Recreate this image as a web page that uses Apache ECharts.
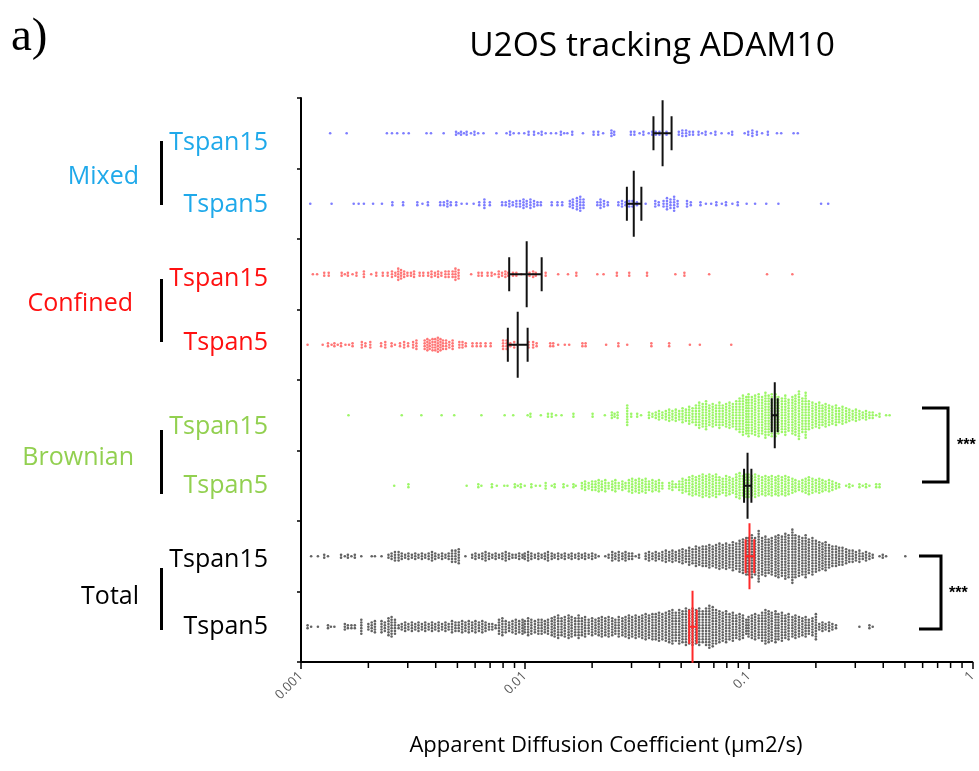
<!DOCTYPE html>
<html>
<head>
<meta charset="utf-8">
<script src="https://cdn.jsdelivr.net/npm/echarts@6/dist/echarts.min.js"></script>
<style>
  html, body { margin: 0; padding: 0; background: #ffffff; }
  #chart { width: 979px; height: 771px; }
</style>
</head>
<body>
<div id="chart"></div>
<script>
// Rows of the dot plot, top to bottom
const rowNames = ['Mixed Tspan15', 'Mixed Tspan5', 'Confined Tspan15', 'Confined Tspan5',
                  'Brownian Tspan15', 'Brownian Tspan5', 'Total Tspan15', 'Total Tspan5'];

// Each entry: [diffusion coefficient (µm2/s), number of trajectories drawn in that column]
const mixedTspan15 = [[0.00135,1],[0.0016,1],[0.00242,1],[0.00255,1],[0.00269,1],[0.00287,1],[0.00303,1],[0.00364,1],[0.00381,1],[0.00434,1],[0.00493,2],[0.00506,1],[0.00519,2],[0.00535,1],[0.0055,2],[0.00575,1],[0.00596,2],[0.00619,1],[0.00654,1],[0.00747,1],[0.00829,1],[0.0086,2],[0.00892,1],[0.00941,1],[0.00995,1],[0.0104,2],[0.011,2],[0.0115,1],[0.0119,2],[0.0124,1],[0.0131,1],[0.0138,1],[0.0145,2],[0.015,1],[0.0155,1],[0.0163,2],[0.0182,1],[0.0203,2],[0.0213,2],[0.0224,1],[0.0244,3],[0.0251,2],[0.0298,2],[0.0309,2],[0.0326,1],[0.0339,2],[0.0358,1],[0.0371,2],[0.0385,2],[0.04,2],[0.043,2],[0.0488,2],[0.0506,3],[0.0526,3],[0.0545,2],[0.0565,2],[0.0598,2],[0.062,1],[0.0643,2],[0.0679,1],[0.0711,2],[0.0758,1],[0.0815,1],[0.0845,2],[0.0961,1],[0.0997,2],[0.104,3],[0.109,2],[0.115,1],[0.122,2],[0.134,1],[0.14,1],[0.159,1],[0.166,1]];

const mixedTspan5 = [[0.0011,1],[0.00137,1],[0.00172,1],[0.00181,1],[0.00191,1],[0.0021,1],[0.0023,1],[0.00256,2],[0.00286,2],[0.00331,2],[0.00349,1],[0.00369,2],[0.00419,2],[0.00435,2],[0.00451,3],[0.00467,2],[0.00494,2],[0.00522,1],[0.00551,1],[0.00591,1],[0.00626,2],[0.0066,4],[0.00698,2],[0.00792,2],[0.00822,2],[0.00853,3],[0.00884,2],[0.00917,3],[0.00952,3],[0.00987,4],[0.0102,3],[0.0106,4],[0.011,3],[0.0114,2],[0.0118,2],[0.0132,2],[0.014,2],[0.0147,2],[0.0159,3],[0.0164,4],[0.0171,5],[0.0177,6],[0.0183,4],[0.0211,2],[0.0218,4],[0.0226,3],[0.0235,2],[0.0262,2],[0.0272,3],[0.0282,2],[0.0293,3],[0.0303,3],[0.0317,2],[0.0347,1],[0.0383,3],[0.0397,2],[0.0417,3],[0.0432,5],[0.0448,4],[0.0465,6],[0.0482,3],[0.0531,3],[0.0552,2],[0.061,2],[0.0645,1],[0.0681,1],[0.0718,2],[0.076,1],[0.0793,2],[0.0847,1],[0.0895,2],[0.0981,1],[0.107,1],[0.12,1],[0.136,1],[0.211,1],[0.227,1]];

const confinedTspan15 = [[0.00113,1],[0.00118,1],[0.00127,2],[0.00133,2],[0.00152,2],[0.00157,1],[0.00162,2],[0.0017,1],[0.00177,2],[0.00191,3],[0.00206,1],[0.00217,2],[0.00232,2],[0.00244,2],[0.00255,3],[0.00264,2],[0.00272,5],[0.0028,4],[0.00289,3],[0.00299,2],[0.0031,2],[0.0032,3],[0.00339,2],[0.00352,2],[0.0037,2],[0.00383,3],[0.00397,2],[0.0041,3],[0.00424,2],[0.00442,3],[0.00457,3],[0.00476,3],[0.0049,5],[0.00506,4],[0.00576,1],[0.00621,2],[0.00643,2],[0.00682,2],[0.00711,2],[0.00735,1],[0.00765,3],[0.00792,2],[0.00819,3],[0.00842,2],[0.00886,2],[0.00917,2],[0.00965,1],[0.0105,2],[0.0109,3],[0.0112,2],[0.0124,2],[0.0141,1],[0.0156,1],[0.017,2],[0.0211,1],[0.0225,1],[0.0258,2],[0.0293,2],[0.0352,2],[0.0471,1],[0.0517,2],[0.0667,1],[0.121,1],[0.157,1]];

const confinedTspan5 = [[0.00107,1],[0.00125,1],[0.00132,2],[0.00137,1],[0.00141,2],[0.00146,1],[0.00151,2],[0.00158,1],[0.00164,1],[0.0017,2],[0.00187,3],[0.00194,2],[0.00204,3],[0.00228,2],[0.00238,3],[0.00254,2],[0.00263,1],[0.00277,2],[0.00289,3],[0.00301,2],[0.00317,3],[0.00328,4],[0.00357,4],[0.00367,5],[0.00376,4],[0.00387,5],[0.00398,5],[0.00409,6],[0.0042,5],[0.00431,4],[0.00445,4],[0.0046,3],[0.00476,4],[0.0051,3],[0.00527,3],[0.00545,2],[0.00584,2],[0.0061,2],[0.00635,2],[0.00668,2],[0.00704,2],[0.008,4],[0.00829,4],[0.00862,2],[0.00897,3],[0.0104,3],[0.0109,3],[0.0113,2],[0.013,2],[0.0134,2],[0.0141,1],[0.0151,1],[0.0158,1],[0.0181,2],[0.0187,2],[0.0231,1],[0.0262,2],[0.0287,1],[0.0368,2],[0.0442,2],[0.0547,1],[0.0606,1],[0.0837,1]];

const brownianTspan15 = [[0.00163,1],[0.00282,1],[0.00345,1],[0.00425,1],[0.00484,1],[0.0064,1],[0.00813,1],[0.00888,1],[0.0103,1],[0.0106,2],[0.0118,1],[0.0127,2],[0.0132,2],[0.0138,1],[0.0146,1],[0.0165,2],[0.0201,2],[0.0228,1],[0.0245,3],[0.0252,2],[0.026,3],[0.0287,8],[0.0299,2],[0.0318,2],[0.0331,1],[0.0359,3],[0.0372,2],[0.0385,3],[0.0398,4],[0.0412,3],[0.0427,4],[0.0442,5],[0.0457,4],[0.0473,5],[0.049,4],[0.0507,6],[0.0525,5],[0.0543,7],[0.0562,6],[0.0582,8],[0.0602,10],[0.0624,9],[0.0646,11],[0.0668,8],[0.0692,9],[0.0716,8],[0.0741,10],[0.0767,8],[0.0794,9],[0.0822,10],[0.0851,9],[0.0881,11],[0.0912,13],[0.0944,15],[0.0977,14],[0.1,16],[0.1035,14],[0.107,15],[0.111,16],[0.115,14],[0.119,17],[0.123,15],[0.127,16],[0.132,16],[0.136,14],[0.141,13],[0.146,15],[0.151,12],[0.157,14],[0.162,15],[0.168,18],[0.174,13],[0.18,17],[0.186,11],[0.193,10],[0.2,9],[0.207,10],[0.214,8],[0.221,9],[0.229,8],[0.237,7],[0.246,8],[0.254,6],[0.263,7],[0.273,6],[0.282,5],[0.292,4],[0.302,5],[0.313,4],[0.324,3],[0.335,4],[0.347,3],[0.359,3],[0.372,1],[0.385,2],[0.412,1],[0.427,1]];

const brownianTspan5 = [[0.00261,1],[0.00302,2],[0.0055,1],[0.0062,2],[0.0064,1],[0.00713,2],[0.0075,1],[0.0081,1],[0.00837,1],[0.00903,2],[0.00931,1],[0.0096,2],[0.01,1],[0.0107,2],[0.0112,1],[0.0117,1],[0.0124,3],[0.0132,1],[0.0136,2],[0.0149,2],[0.0155,1],[0.0165,2],[0.0169,1],[0.018,3],[0.0186,4],[0.0193,3],[0.02,4],[0.0207,4],[0.0214,5],[0.0221,4],[0.0229,5],[0.0237,3],[0.0246,4],[0.0254,5],[0.0263,3],[0.0273,4],[0.0282,3],[0.0292,5],[0.0302,6],[0.0313,5],[0.0324,6],[0.0335,5],[0.0347,6],[0.0359,4],[0.0372,5],[0.0385,4],[0.0398,5],[0.0412,3],[0.0442,3],[0.0457,4],[0.0473,2],[0.049,4],[0.0507,6],[0.0525,5],[0.0543,7],[0.0562,8],[0.0582,7],[0.0602,8],[0.0624,9],[0.0646,8],[0.0668,9],[0.0692,8],[0.0716,9],[0.0741,7],[0.0767,6],[0.0794,8],[0.0822,7],[0.0851,6],[0.0881,9],[0.0912,10],[0.0944,8],[0.0977,9],[0.1,9],[0.1035,8],[0.107,9],[0.111,8],[0.115,7],[0.119,8],[0.123,7],[0.127,8],[0.132,7],[0.136,8],[0.141,7],[0.146,8],[0.151,7],[0.157,6],[0.162,5],[0.168,4],[0.174,5],[0.18,6],[0.186,7],[0.193,6],[0.2,5],[0.207,6],[0.214,5],[0.221,4],[0.229,5],[0.237,4],[0.246,3],[0.254,2],[0.273,1],[0.282,2],[0.292,1],[0.313,2],[0.324,1],[0.335,2],[0.347,1],[0.372,2],[0.385,2]];

const totalTspan15 = [[0.00111,1],[0.00119,1],[0.00127,2],[0.00132,1],[0.00151,2],[0.00157,1],[0.00162,2],[0.00168,1],[0.00174,2],[0.00186,1],[0.00207,1],[0.00214,1],[0.00229,1],[0.00246,2],[0.00254,3],[0.00263,4],[0.00273,4],[0.00282,3],[0.00292,2],[0.00302,3],[0.00313,2],[0.00324,3],[0.00335,2],[0.00347,3],[0.00359,2],[0.00372,3],[0.00385,4],[0.00398,3],[0.00412,2],[0.00427,3],[0.00442,2],[0.00457,3],[0.00473,5],[0.0049,5],[0.00507,6],[0.00543,1],[0.00582,2],[0.00602,3],[0.00624,2],[0.00646,3],[0.00668,4],[0.00692,3],[0.00716,2],[0.00741,3],[0.00767,2],[0.00794,3],[0.00822,4],[0.00851,3],[0.00881,2],[0.00912,2],[0.00944,3],[0.00977,2],[0.01,3],[0.01035,4],[0.0107,3],[0.0111,2],[0.0115,3],[0.0119,2],[0.0123,3],[0.0127,4],[0.0132,3],[0.0136,2],[0.0141,3],[0.0146,2],[0.0151,3],[0.0157,2],[0.0162,3],[0.0168,2],[0.0174,3],[0.018,2],[0.0186,3],[0.0193,2],[0.02,3],[0.0207,2],[0.0214,1],[0.0229,1],[0.0237,2],[0.0246,4],[0.0254,3],[0.0263,4],[0.0273,3],[0.0282,4],[0.0292,3],[0.0302,3],[0.0313,1],[0.0324,2],[0.0347,3],[0.0359,4],[0.0372,3],[0.0385,4],[0.0398,3],[0.0412,4],[0.0427,5],[0.0442,4],[0.0457,5],[0.0473,4],[0.049,5],[0.0507,6],[0.0525,5],[0.0543,7],[0.0562,6],[0.0582,8],[0.0602,7],[0.0624,8],[0.0646,8],[0.0668,9],[0.0692,8],[0.0716,9],[0.0741,10],[0.0767,9],[0.0794,10],[0.0822,9],[0.0851,11],[0.0881,10],[0.0912,12],[0.0944,13],[0.0977,14],[0.1,14],[0.1035,16],[0.107,14],[0.111,19],[0.115,14],[0.119,15],[0.123,13],[0.127,14],[0.132,15],[0.136,16],[0.141,15],[0.146,17],[0.151,16],[0.157,20],[0.162,16],[0.168,15],[0.174,14],[0.18,16],[0.186,13],[0.193,14],[0.2,12],[0.207,11],[0.214,10],[0.221,11],[0.229,9],[0.237,8],[0.246,8],[0.254,7],[0.263,7],[0.273,6],[0.282,5],[0.292,5],[0.302,4],[0.313,5],[0.324,3],[0.335,4],[0.347,3],[0.359,2],[0.385,1],[0.398,2],[0.412,1],[0.502,1]];

const totalTspan5 = [[0.00107,2],[0.00111,1],[0.00119,1],[0.00132,2],[0.00136,1],[0.00141,1],[0.00157,3],[0.00162,2],[0.00168,2],[0.00174,2],[0.00186,6],[0.002,3],[0.00207,4],[0.00214,5],[0.00229,5],[0.00237,4],[0.00246,7],[0.00254,8],[0.00263,6],[0.00273,2],[0.00282,3],[0.00292,4],[0.00302,3],[0.00313,4],[0.00324,3],[0.00335,4],[0.00347,3],[0.00359,4],[0.00372,3],[0.00385,4],[0.00398,3],[0.00412,4],[0.00427,3],[0.00442,4],[0.00457,3],[0.00473,5],[0.0049,4],[0.00507,4],[0.00525,5],[0.00543,4],[0.00562,5],[0.00582,4],[0.00602,5],[0.00624,4],[0.00646,5],[0.00668,4],[0.00692,3],[0.00716,3],[0.00741,2],[0.00767,6],[0.00794,7],[0.00822,5],[0.00851,4],[0.00881,5],[0.00912,6],[0.00944,5],[0.00977,6],[0.01,5],[0.01035,7],[0.0107,6],[0.0111,5],[0.0115,6],[0.0119,6],[0.0123,5],[0.0127,6],[0.0132,7],[0.0136,8],[0.0141,9],[0.0146,7],[0.0151,8],[0.0157,9],[0.0162,8],[0.0168,7],[0.0174,9],[0.018,7],[0.0186,8],[0.0193,6],[0.02,7],[0.0207,6],[0.0214,7],[0.0221,8],[0.0229,7],[0.0237,8],[0.0246,7],[0.0254,6],[0.0263,8],[0.0273,7],[0.0282,8],[0.0292,9],[0.0302,8],[0.0313,9],[0.0324,8],[0.0335,9],[0.0347,10],[0.0359,9],[0.0372,10],[0.0385,10],[0.0398,11],[0.0412,10],[0.0427,11],[0.0442,12],[0.0457,13],[0.0473,11],[0.049,13],[0.0507,12],[0.0525,14],[0.0543,13],[0.0562,14],[0.0582,13],[0.0602,14],[0.0624,12],[0.0646,14],[0.0668,16],[0.0692,15],[0.0716,13],[0.0741,12],[0.0767,11],[0.0794,12],[0.0822,10],[0.0851,11],[0.0881,9],[0.0912,10],[0.0944,9],[0.0977,6],[0.1,8],[0.1035,9],[0.107,10],[0.111,9],[0.115,11],[0.119,13],[0.123,12],[0.127,11],[0.132,12],[0.136,10],[0.141,11],[0.146,9],[0.151,10],[0.157,8],[0.162,9],[0.168,8],[0.174,7],[0.18,8],[0.186,6],[0.193,7],[0.2,10],[0.207,3],[0.214,4],[0.221,3],[0.229,4],[0.237,3],[0.246,2],[0.313,1],[0.347,2],[0.359,1]];

// Mean and error-bar limits per row (µm2/s)
const meanValues = [0.0413, 0.0307, 0.0102, 0.0093, 0.131, 0.099, 0.101, 0.0562];
const errLow     = [0.0376, 0.0286, 0.00852, 0.0084, 0.127, 0.0955, 0.097, 0.0543];
const errHigh    = [0.0453, 0.0332, 0.0119, 0.0103, 0.135, 0.103, 0.106, 0.0587];

// Axis ticks
const majorTicks = [0.001, 0.01, 0.1, 1];
const minorTicks = [0.002,0.003,0.004,0.005,0.006,0.007,0.008,0.009,
                    0.02,0.03,0.04,0.05,0.06,0.07,0.08,0.09,
                    0.2,0.3,0.4,0.5,0.6,0.7,0.8,0.9];

const rowSeries = [mixedTspan15, mixedTspan5, confinedTspan15, confinedTspan5,
                   brownianTspan15, brownianTspan5, totalTspan15, totalTspan5];
const dotColors = ['#5c5cff', '#5c5cff', '#ff5454', '#ff5454',
                   '#84f442', '#84f442', '#3c3c3c', '#3c3c3c'];

const PITCH = 2.8;       // vertical spacing of stacked dots, px
const FONT = '"Open Sans", "Noto Sans", sans-serif';

// Stack the points of each column vertically around the row centre
function swarm(columns, row) {
  const out = [];
  columns.forEach(([v, n]) => {
    for (let k = 0; k < n; k++) {
      out.push({ value: [v, row], symbolOffset: [0, (k - (n - 1) / 2) * PITCH] });
    }
  });
  return out;
}

const scatterSeries = rowSeries.map((cols, i) => ({
  type: 'scatter',
  name: rowNames[i],
  symbol: 'circle',
  symbolSize: 2.6,
  itemStyle: { color: dotColors[i] },
  data: swarm(cols, i),
  silent: true,
  z: 2
}));

const errorSeries = {
  type: 'custom',
  name: 'mean',
  clip: false,
  z: 5,
  data: rowNames.map((_, i) => [meanValues[i], i, errLow[i], errHigh[i]]),
  encode: { x: 0, y: 1 },
  renderItem: (params, api) => {
    const row = api.value(1);
    const c = api.coord([api.value(0), row]);
    const lo = api.coord([api.value(2), row]);
    const hi = api.coord([api.value(3), row]);
    const color = row >= 6 ? '#ff2a2a' : '#111111';
    const halfMean = row === 7 ? 36 : 33;
    const halfErr = 17;
    const st = { stroke: color, lineWidth: 2 };
    return {
      type: 'group',
      children: [
        { type: 'line', shape: { x1: c[0], y1: c[1] - halfMean, x2: c[0], y2: c[1] + halfMean }, style: st },
        { type: 'line', shape: { x1: lo[0], y1: c[1] - halfErr, x2: lo[0], y2: c[1] + halfErr }, style: st },
        { type: 'line', shape: { x1: hi[0], y1: c[1] - halfErr, x2: hi[0], y2: c[1] + halfErr }, style: st },
        { type: 'line', shape: { x1: lo[0], y1: c[1], x2: hi[0], y2: c[1] }, style: st }
      ]
    };
  }
};

const minorTickSeries = {
  type: 'custom',
  name: 'minor ticks',
  clip: false,
  silent: true,
  data: minorTicks.map(v => [v, 0]),
  encode: { x: 0, y: 1 },
  renderItem: (params, api) => {
    const x = api.coord([api.value(0), 0])[0];
    const cs = params.coordSys;
    const y0 = cs.y + cs.height;
    return { type: 'line', shape: { x1: x, y1: y0, x2: x, y2: y0 + 6 },
             style: { stroke: '#000', lineWidth: 1.5 } };
  }
};

// Text labels, group bars and significance brackets
function label(text, x, y, color, align) {
  return { type: 'text', x: x, y: y, silent: true,
           style: { text: text, font: '25px ' + FONT, fill: color, align: align || 'right', verticalAlign: 'middle' } };
}
function bar(y1, y2) {
  return { type: 'rect', silent: true, shape: { x: 160, y: y1, width: 3, height: y2 - y1 }, style: { fill: '#000' } };
}
const cMixed = '#1fa9ea', cConf = '#ff1010', cBrown = '#92d050', cTotal = '#000000';

const graphics = [
  { type: 'text', x: 11, y: 38, silent: true,
    style: { text: 'a)', font: '47px "Liberation Serif", serif', fill: '#000', verticalAlign: 'middle' } },
  { type: 'text', x: 652, y: 46, silent: true,
    style: { text: 'U2OS tracking ADAM10', font: '33.5px ' + FONT, fill: '#000', align: 'center', verticalAlign: 'middle' } },

  label('Mixed', 139, 177, cMixed), bar(141, 205),
  label('Tspan15', 268, 143, cMixed), label('Tspan5', 268, 205, cMixed),

  label('Confined', 133, 304, cConf), bar(279, 342),
  label('Tspan15', 268, 279, cConf), label('Tspan5', 268, 343, cConf),

  label('Brownian', 134, 458, cBrown), bar(430, 494),
  label('Tspan15', 268, 427, cBrown), label('Tspan5', 268, 486, cBrown),

  label('Total', 139, 597, cTotal), bar(568, 630),
  label('Tspan15', 268, 560, cTotal), label('Tspan5', 268, 627, cTotal),

  { type: 'polyline', silent: true, shape: { points: [[922, 408], [948, 408], [948, 482], [922, 482]] },
    style: { stroke: '#000', lineWidth: 3, fill: null } },
  { type: 'text', x: 957, y: 446, silent: true,
    style: { text: '***', font: 'bold 16px "Liberation Sans", sans-serif', fill: '#000', verticalAlign: 'middle' } },
  { type: 'polyline', silent: true, shape: { points: [[919, 556], [941, 556], [941, 629], [919, 629]] },
    style: { stroke: '#000', lineWidth: 3, fill: null } },
  { type: 'text', x: 949, y: 594, silent: true,
    style: { text: '***', font: 'bold 16px "Liberation Sans", sans-serif', fill: '#000', verticalAlign: 'middle' } },

  { type: 'text', x: 606, y: 746, silent: true,
    style: { text: 'Apparent Diffusion Coefficient (µm2/s)', font: '22px ' + FONT, fill: '#000', align: 'center', verticalAlign: 'middle' } }
];

const chart = echarts.init(document.getElementById('chart'), null, { renderer: 'canvas' });
chart.setOption({
  animation: false,
  backgroundColor: '#ffffff',
  grid: { left: 301, right: 6, top: 98, bottom: 109, containLabel: false },
  xAxis: {
    type: 'log',
    logBase: 10,
    min: majorTicks[0],
    max: majorTicks[majorTicks.length - 1],
    splitLine: { show: false },
    axisLine: { show: true, lineStyle: { color: '#000', width: 2 } },
    axisTick: { show: true, length: 7, lineStyle: { color: '#000', width: 1.5 } },
    axisLabel: {
      rotate: 45, fontSize: 13, color: '#595959', margin: 12, fontFamily: FONT,
      formatter: v => String(+Number(v).toPrecision(1))
    }
  },
  yAxis: {
    type: 'category',
    data: rowNames,
    inverse: true,
    axisLine: { show: true, onZero: false, lineStyle: { color: '#000', width: 2 } },
    axisTick: { show: true, length: 4, lineStyle: { color: '#000', width: 1.5 } },
    axisLabel: { show: false },
    splitLine: { show: false }
  },
  series: [...scatterSeries, errorSeries, minorTickSeries],
  graphic: graphics
});
</script>
</body>
</html>
